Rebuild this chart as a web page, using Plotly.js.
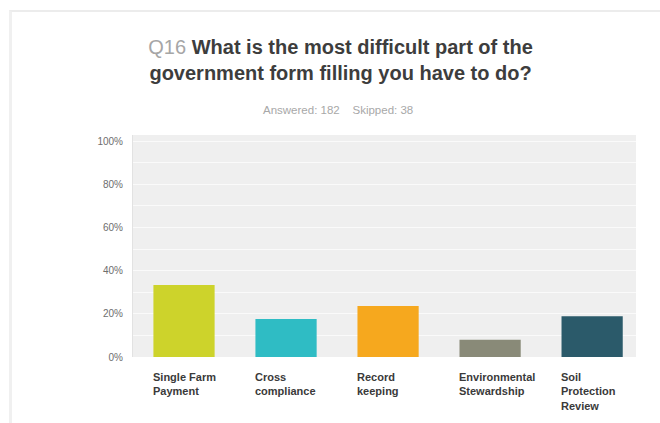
<!DOCTYPE html>
<html>
<head>
<meta charset="utf-8">
<script src="https://cdn.plot.ly/plotly-3.0.1.min.js"></script>
<style>
html,body{margin:0;padding:0;background:#fff;}
#wrap{position:relative;width:660px;height:423px;}
#chart{width:660px;height:423px;}
#frame{position:absolute;left:9px;top:10px;width:651px;height:413px;border-left:3px solid #f0f0f0;border-top:2px solid #ececec;pointer-events:none;box-sizing:border-box;}
</style>
</head>
<body>
<div id="wrap"><div id="chart"></div><div id="frame"></div></div>
<script>
const categories = ["Single Farm<br>Payment", "Cross<br>compliance", "Record<br>keeping", "Environmental<br>Stewardship", "Soil<br>Protection<br>Review"];
const percentValues = [33.3, 17.6, 23.6, 8.0, 18.9];
const barColors = ["#cdd32b", "#2fbcc4", "#f6a81e", "#898a78", "#2b5a6a"];
const yTickValues = [0, 20, 40, 60, 80, 100];
const yTickLabels = ["0%", "20%", "40%", "60%", "80%", "100%"];
const titleQ = "Q16";
const titleText = ["What is the most difficult part of the", "government form filling you have to do?"];
const subtitleText = "Answered: 182&nbsp;&nbsp;&nbsp;&nbsp;Skipped: 38";

const xIdx = categories.map((c, i) => i);

const trace = {
  type: "bar",
  x: xIdx,
  y: percentValues,
  width: 0.6,
  marker: {color: barColors, line: {width: 0}},
  hoverinfo: "skip"
};

const catAnnotations = categories.map((c, i) => ({
  x: i, xref: "x", y: 0, yref: "paper",
  xanchor: "left", yanchor: "top", align: "left",
  xshift: -33, yshift: -12,
  text: c, showarrow: false,
  font: {family: "Liberation Sans, Arial, sans-serif", size: 11, color: "#3a3a3a", weight: "bold"}
}));

const layout = {
  width: 660, height: 423,
  margin: {l: 133, r: 24, t: 135, b: 66},
  paper_bgcolor: "#ffffff",
  plot_bgcolor: "#efefef",
  showlegend: false,
  bargap: 0.4,
  font: {family: "Liberation Sans, Arial, sans-serif"},
  title: {
    text: "<span style='color:#a6a6a6'>" + titleQ + "</span> <b>" + titleText[0] + "</b><br><b>" + titleText[1] + "</b>",
    font: {family: "Liberation Sans, Arial, sans-serif", size: 20, color: "#3d3d3d"},
    xref: "container", x: 0.516, xanchor: "center",
    yref: "container", y: 1 - 54/423, yanchor: "top"
  },
  xaxis: {
    range: [-0.5, 4.43],
    showticklabels: false,
    showgrid: false, zeroline: false, showline: false,
    fixedrange: true
  },
  yaxis: {
    range: [0, 102.8],
    tickvals: yTickValues,
    ticktext: yTickLabels,
    tickfont: {family: "Liberation Sans, Arial, sans-serif", size: 10, color: "#6e6e6e"},
    ticklabelstandoff: 7,
    showgrid: true, gridcolor: "#fafafa", gridwidth: 1,
    minor: {dtick: 10, showgrid: true, gridcolor: "#fafafa", gridwidth: 1},
    zeroline: false,
    showline: true, linecolor: "#e2e2e2", linewidth: 1,
    fixedrange: true
  },
  annotations: [
    {
      x: 0.408, xref: "paper", y: 1.112, yref: "paper",
      xanchor: "center", yanchor: "middle",
      text: subtitleText, showarrow: false,
      font: {family: "Liberation Sans, Arial, sans-serif", size: 11.5, color: "#a8a8a8"}
    }
  ].concat(catAnnotations)
};

Plotly.newPlot("chart", [trace], layout, {displayModeBar: false, staticPlot: true});
</script>
</body>
</html>
